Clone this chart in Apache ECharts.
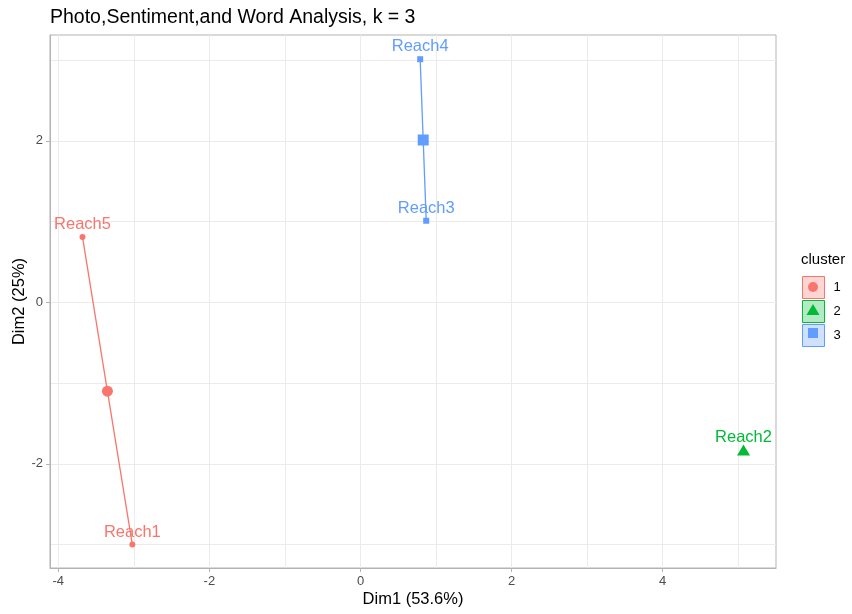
<!DOCTYPE html>
<html>
<head>
<meta charset="utf-8">
<script src="https://cdn.jsdelivr.net/npm/echarts@6/dist/echarts.min.js"></script>
<style>html,body{margin:0;padding:0;background:#fff;}#chart{width:852px;height:614px;}</style>
</head>
<body>
<div id="chart"></div>
<script>
// ---- data ----
const pointNames = ['Reach1', 'Reach2', 'Reach3', 'Reach4', 'Reach5'];
const dim1 = [-3.02, 5.07, 0.87, 0.79, -3.68];
const dim2 = [-3.00, -1.83, 1.01, 3.01, 0.81];
const clusterOf = [1, 2, 3, 3, 1];
const clusterNames = ['1', '2', '3'];
const centroidDim1 = [-3.35, 5.07, 0.83];
const centroidDim2 = [-1.10, -1.83, 2.01];
const xTicks = [-4, -2, 0, 2, 4];
const yTicks = [-2, 0, 2];
const xMinorGrid = [-3, -1, 1, 3, 5];
const yMinorGrid = [-3, -1, 1, 3];
const xRange = [-4.11, 5.50];
const yRange = [-3.29, 3.31];

const colors = ['#F8766D', '#00BA38', '#619CFF'];
const fills = ['rgba(248,118,109,0.3)', 'rgba(0,186,56,0.3)', 'rgba(97,156,255,0.3)'];
const shapes = ['circle', 'triangle', 'rect'];
const smallSize = [6, [7, 6], 6];
const bigSize = [11, [13, 11], 11];
const FONT = '"Liberation Sans", Arial, Helvetica, sans-serif';

const series = [];
// grid lines (major + minor) drawn through the axes via markLine
const gridColor = '#ebebeb';
series.push({
  type: 'scatter', name: 'grid', data: [], silent: true, z: 0,
  markLine: {
    silent: true, z: 0, symbol: ['none', 'none'], label: {show: false},
    lineStyle: {color: gridColor, width: 1, type: 'solid'},
    emphasis: {disabled: true},
    animation: false,
    data: xTicks.concat(xMinorGrid).map(v => ({xAxis: v}))
      .concat(yTicks.concat(yMinorGrid).map(v => ({yAxis: v})))
  }
});

clusterNames.forEach((cn, ci) => {
  const idx = [];
  clusterOf.forEach((c, i) => { if (c === ci + 1) idx.push(i); });
  const cx = centroidDim1[ci], cy = centroidDim2[ci];
  series.push({
    type: 'lines', name: cn, coordinateSystem: 'cartesian2d', silent: true, z: 2,
    lineStyle: {color: colors[ci], width: 1.3, opacity: 1},
    data: idx.map(i => ({coords: [[dim1[i], dim2[i]], [cx, cy]]}))
  });
  series.push({
    type: 'scatter', name: cn, z: 3, symbol: shapes[ci], symbolSize: smallSize[ci],
    itemStyle: {color: colors[ci], opacity: 1},
    label: {show: true, position: 'top', distance: 1, formatter: '{b}',
            color: colors[ci], fontSize: 16.5, fontFamily: FONT},
    data: idx.map(i => ({name: pointNames[i], value: [dim1[i], dim2[i]]}))
  });
  series.push({
    type: 'scatter', name: cn, z: 3, symbol: shapes[ci], symbolSize: bigSize[ci],
    itemStyle: {color: colors[ci], opacity: 1},
    data: [[cx, cy]]
  });
});

const legendLeft = 802, legendTop = 276, keySize = 22, keyGap = 1;
const legendSymbols = clusterNames.map((cn, ci) => {
  const cxp = legendLeft + keySize / 2, cyp = legendTop + ci * (keySize + keyGap) + keySize / 2;
  const fill = {fill: colors[ci]};
  if (shapes[ci] === 'circle') return {type: 'circle', shape: {cx: cxp, cy: cyp, r: 5}, style: fill, z: 100};
  if (shapes[ci] === 'rect') return {type: 'rect', shape: {x: cxp - 5, y: cyp - 5, width: 10, height: 10}, style: fill, z: 100};
  return {type: 'polygon', shape: {points: [[cxp, cyp - 6], [cxp - 6.5, cyp + 5], [cxp + 6.5, cyp + 5]]}, style: fill, z: 100};
});

const axisGray = '#b3b3b3';
const option = {
  animation: false,
  backgroundColor: '#fff',
  textStyle: {fontFamily: FONT},
  title: [
    {text: 'Photo,Sentiment,and Word Analysis, k = 3', left: 50, top: 8, padding: 0,
     textStyle: {fontSize: 19.5, fontWeight: 'normal', color: '#000', fontFamily: FONT}},
    {text: 'cluster', left: 801, top: 252, padding: 0,
     textStyle: {fontSize: 15, fontWeight: 'normal', color: '#000', fontFamily: FONT}}
  ],
  legend: {
    orient: 'vertical', left: legendLeft, top: legendTop, padding: 0,
    itemWidth: keySize, itemHeight: keySize, itemGap: keyGap,
    selectedMode: false,
    textStyle: {fontSize: 13, color: '#000', fontFamily: FONT, padding: [0, 0, 0, 4]},
    data: clusterNames.map((cn, ci) => ({
      name: cn, icon: 'rect',
      itemStyle: {color: fills[ci], borderColor: colors[ci], borderWidth: 1}
    }))
  },
  grid: {left: 50, right: 76, top: 35, bottom: 46, show: true, borderColor: axisGray, borderWidth: 1,
         containLabel: false, outerBoundsMode: 'none'},
  xAxis: {
    type: 'value', min: xRange[0], max: xRange[1],
    name: 'Dim1 (53.6%)', nameLocation: 'middle', nameGap: 23, nameMoveOverlap: false,
    nameTextStyle: {fontSize: 16.5, color: '#000', fontFamily: FONT},
    axisLine: {show: true, onZero: false, lineStyle: {color: axisGray}},
    axisTick: {show: true, length: 4, customValues: xTicks, lineStyle: {color: axisGray}},
    axisLabel: {customValues: xTicks, fontSize: 13, color: '#4d4d4d', margin: 7, fontFamily: FONT},
    splitLine: {show: false}
  },
  yAxis: {
    type: 'value', min: yRange[0], max: yRange[1],
    name: 'Dim2 (25%)', nameLocation: 'middle', nameGap: 22, nameMoveOverlap: false,
    nameTextStyle: {fontSize: 16.5, color: '#000', fontFamily: FONT},
    axisLine: {show: true, onZero: false, lineStyle: {color: axisGray}},
    axisTick: {show: true, length: 4, customValues: yTicks, lineStyle: {color: axisGray}},
    axisLabel: {customValues: yTicks, fontSize: 13, color: '#4d4d4d', margin: 7, fontFamily: FONT},
    splitLine: {show: false}
  },
  graphic: legendSymbols,
  series: series
};

const chart = echarts.init(document.getElementById('chart'), null, {renderer: 'canvas'});
chart.setOption(option);
</script>
</body>
</html>
